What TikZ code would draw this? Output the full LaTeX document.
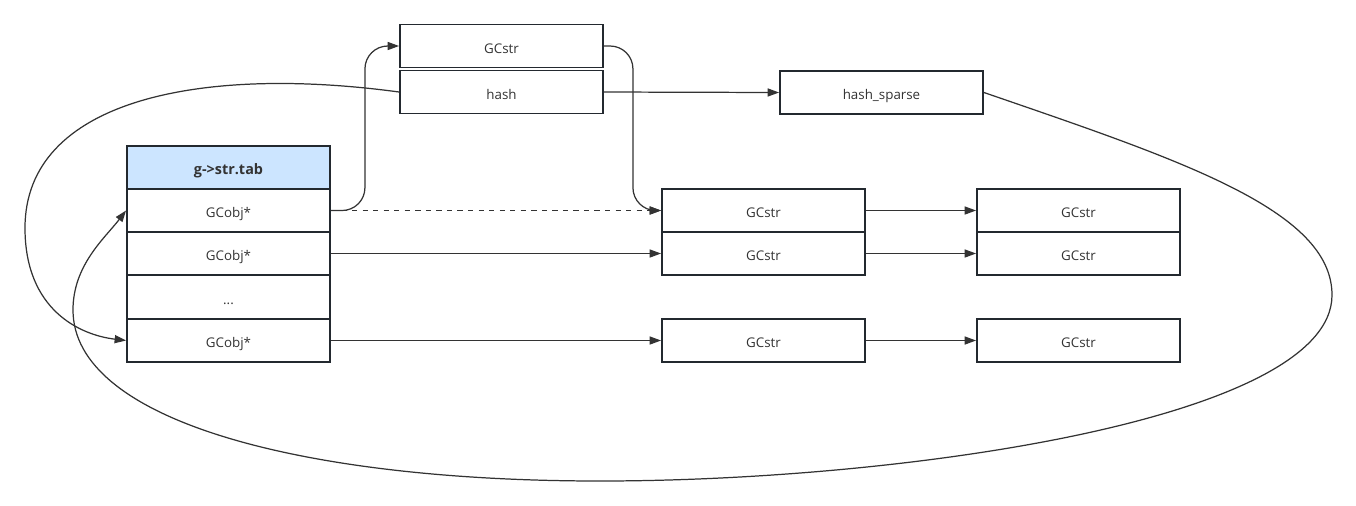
\documentclass[tikz,border=0pt]{standalone}
\usepackage{fontspec}
\setmainfont{Open Sans}
\usepackage{tikz}
\usetikzlibrary{arrows.meta}
\definecolor{hdrblue}{HTML}{CCE5FF}
\definecolor{inkgray}{HTML}{333333}
\definecolor{boxedge}{HTML}{23292F}

\begin{document}
\begin{tikzpicture}[x=0.02cm, y=-0.02cm,
    cell/.style={draw=boxedge, line width=1.1pt, minimum width=4.06cm, minimum height=0.86cm,
      inner sep=0pt, text height=1.55ex, text depth=0pt, text=inkgray, font=\fontsize{7.6}{9}\selectfont},
    link/.style={draw=inkgray, line width=0.7pt, -{Triangle[length=6.5pt, width=4.6pt]}}]
      \useasboundingbox (0,0) rectangle (1356,505);

      \node[cell, fill=hdrblue, font=\fontsize{8.2}{10}\selectfont\bfseries] (tab) at (228.5,167.5) {g->str.tab};
      \node[cell] (obj1) at (228.5,210.5) {GCobj*};
      \node[cell] (obj2) at (228.5,253.5) {GCobj*};
      \node[cell] (dots) at (228.5,297) {...};
      \node[cell] (obj4) at (228.5,340.5) {GCobj*};

      \node[cell] (gcstr) at (501.5,46) {GCstr};
      \node[cell] (hash) at (501.5,92) {hash};
      \node[cell] (sparse) at (881.5,92.5) {hash\_sparse};

      \node[cell] (mid1) at (763.5,210.5) {GCstr};
      \node[cell] (mid2) at (763.5,253.5) {GCstr};
      \node[cell] (mid3) at (763.5,340.5) {GCstr};
      \node[cell] (right1) at (1078.5,210.5) {GCstr};
      \node[cell] (right2) at (1078.5,253.5) {GCstr};
      \node[cell] (right3) at (1078.5,340.5) {GCstr};

      \coordinate (westturn) at (25,228);
      \coordinate (eastturn) at (1332,295);
      \coordinate (lowturn) at (600,481);
      \coordinate (leftturn) at (73,310);

      \draw[link, rounded corners=13pt] (obj1.east) -- ++(34,0) |- (gcstr.west);
      \draw[link, rounded corners=13pt] (gcstr.east) -- ++(29,0) |- (mid1.west);
      \draw[link, dashed] (obj1.east) -- (mid1.west);
      \draw[link] (obj2.east) -- (mid2.west);
      \draw[link] (obj4.east) -- (mid3.west);
      \foreach \from/\to in {mid1/right1, mid2/right2, mid3/right3}
        \draw[link] (\from.east) -- (\to.west);
      \draw[link] (hash.east) -- (sparse.west);

      \draw[link] (hash.west) .. controls (200,65) and (25,100) .. (westturn)
        .. controls (25,310) and (80,335) .. (obj4.west);
      \draw[link] (sparse.east) .. controls (1180,160) and (1332,210) .. (eastturn)
        .. controls (1332,420) and (900,481) .. (lowturn)
        .. controls (300,481) and (73,420) .. (leftturn)
        .. controls (73,265) and (105,238) .. (obj1.west);
    \end{tikzpicture}
\end{document}
